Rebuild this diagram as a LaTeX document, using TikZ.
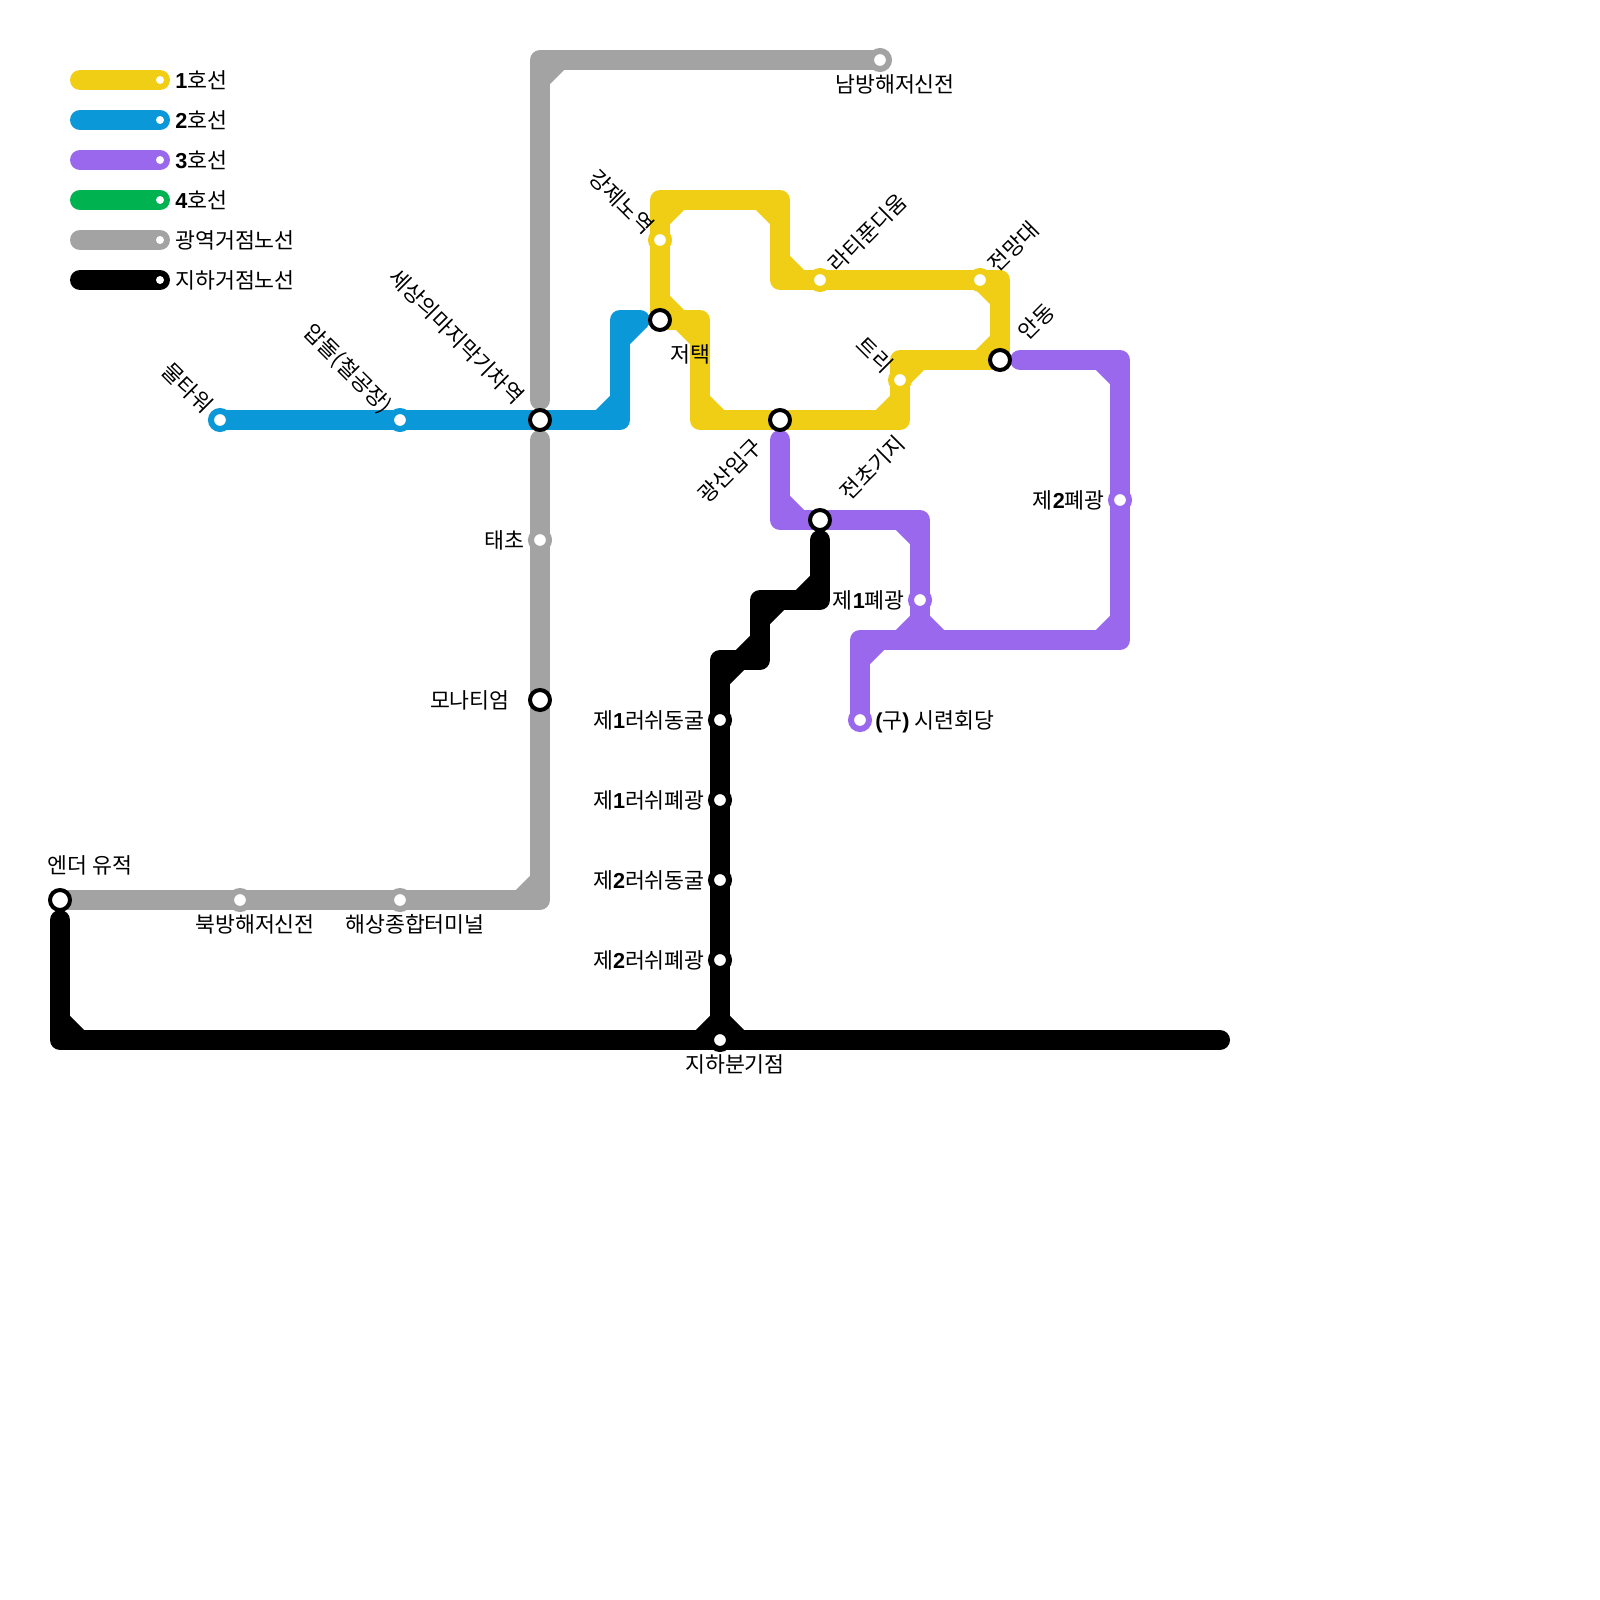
\documentclass[tikz,border=0pt]{standalone}
\usepackage{fontspec}
\setmainfont{Noto Sans CJK KR}
\newfontfamily\latinbold{Liberation Sans Bold}
\usetikzlibrary{calc}
\definecolor{lineone}{HTML}{F0CE15}
\definecolor{linetwo}{HTML}{0A98D9}
\definecolor{linethree}{HTML}{9A68ED}
\definecolor{linefour}{HTML}{00B250}
\definecolor{linewide}{HTML}{A3A3A3}
\definecolor{lineunder}{HTML}{000000}
\newcommand{\lb}[1]{{\latinbold #1}}
\tikzset{
  metro/.style={line width=0.5cm, line cap=round, line join=round},
  cut/.style={line width=0.5cm, line cap=butt},
  stn/.style={circle, draw=#1, fill=white, line width=0.15cm, minimum size=0.45cm, inner sep=0pt, outer sep=0pt},
  transfer/.style={circle, draw=black, fill=white, line width=0.1cm, minimum size=0.5cm, inner sep=0pt, outer sep=0pt},
  legdot/.style={circle, fill=white, minimum size=0.2cm, inner sep=0pt, outer sep=0pt},
  lbl/.style={font=\fontsize{15.4}{17}\selectfont, inner sep=0pt, text=black, text height=12pt, text depth=0.5pt},
}
\begin{document}
\begin{tikzpicture}[x=0.5cm, y=-0.5cm]
  \useasboundingbox (0,0) rectangle (80,80);
  \fill[white] (0,0) rectangle (80,80);

  % legend
  \foreach \yy/\col/\txt [count=\i] in {4/lineone/\lb{1}호선, 6/linetwo/\lb{2}호선, 8/linethree/\lb{3}호선, 10/linefour/\lb{4}호선, 12/linewide/광역거점노선, 14/lineunder/지하거점노선}{
    \coordinate (lega\i) at (4,\yy);
    \coordinate (legb\i) at (8,\yy);
    \draw[metro, \col] (lega\i) -- (legb\i);
    \node[legdot] (legdot\i) at (legb\i) {};
    \node[lbl, anchor=west] (legtxt\i) at (8.75,\yy) {\txt};
  }

  % bends and free ends
  \foreach \nm/\pos in {ya/{33,10}, yb/{39,10}, yc/{39,14}, yd/{50,14}, ye/{45,18}, yf/{45,21}, yg/{35,21}, yh/{35,16},
    ba/{31,21}, bb/{31,16}, bc/{32,16},
    ga/{27,3}, gb/{27,20}, gc/{27,22}, gd/{27,45},
    ka/{3,46}, kb/{3,52}, kc/{61,52}, kd/{36,33}, ke/{38,33}, kf/{38,30}, kg/{41,30}, kh/{41,27},
    pa/{51,18}, pb/{56,18}, pc/{56,32}, pd/{43,32}, pe/{39,22}, pf/{39,26}, pg/{46,26}, ph/{46,32}}
    {\coordinate (\nm) at (\pos);}

  % station places
  \path
    (33,16) coordinate (jeotaek)
    (50,18) coordinate (andong)
    (39,21) coordinate (gwangsan)
    (27,21) coordinate (sesang)
    (41,26) coordinate (jeoncho)
    (3,45)  coordinate (ender)
    (36,52) coordinate (jiha)
    (33,12) coordinate (gangje)
    (41,14) coordinate (lati)
    (49,14) coordinate (jeonmang)
    (45,19) coordinate (teuri)
    (11,21) coordinate (multa)
    (20,21) coordinate (apdol)
    (44,3)  coordinate (nambang)
    (27,27) coordinate (taecho)
    (27,35) coordinate (monati)
    (20,45) coordinate (haesang)
    (12,45) coordinate (bukbang)
    (56,25) coordinate (pyeeb)
    (46,30) coordinate (pyeea)
    (43,36) coordinate (siryeon)
    (36,36) coordinate (dongula)
    (36,40) coordinate (pyeec)
    (36,44) coordinate (dongulb)
    (36,48) coordinate (pyeed);

  % 1
  \draw[metro, lineone] (jeotaek) -- (ya) -- (yb) -- (yc) -- (yd) -- (andong) -- (ye) -- (yf) -- (yg) -- (yh) -- (jeotaek);
  \foreach \xa/\ya/\xb/\yb in {33/11/34/10, 38/10/39/11, 39/13/40/14, 49/14/50/15, 50/17/49/18, 46/18/45/19, 45/20/44/21, 36/21/35/20, 35/17/34/16, 33/15/34/16}
    {\draw[cut, lineone] (\xa,\ya) -- (\xb,\yb);}
  % 2
  \draw[metro, linetwo] (multa) -- (ba) -- (bb) -- (bc);
  \foreach \xa/\ya/\xb/\yb in {30/21/31/20, 31/17/32/16}
    {\draw[cut, linetwo] (\xa,\ya) -- (\xb,\yb);}
  % 3
  \draw[metro, linethree] (pa) -- (pb) -- (pc) -- (pd) -- (siryeon);
  \draw[metro, linethree] (pe) -- (pf) -- (pg) -- (ph);
  \foreach \xa/\ya/\xb/\yb in {55/18/56/19, 56/31/55/32, 44/32/43/33, 39/25/40/26, 45/26/46/27, 45/32/46/31, 47/32/46/31}
    {\draw[cut, linethree] (\xa,\ya) -- (\xb,\yb);}
  % wide area
  \draw[metro, linewide] (nambang) -- (ga) -- (gb);
  \draw[metro, linewide] (gc) -- (gd) -- (ender);
  \foreach \xa/\ya/\xb/\yb in {28/3/27/4, 27/44/26/45}
    {\draw[cut, linewide] (\xa,\ya) -- (\xb,\yb);}
  % underground
  \draw[metro, lineunder] (ka) -- (kb) -- (kc);
  \draw[metro, lineunder] (jiha) -- (kd) -- (ke) -- (kf) -- (kg) -- (kh);
  \foreach \xa/\ya/\xb/\yb in {3/51/4/52, 35/52/36/51, 37/52/36/51, 36/34/37/33, 37/33/38/32, 38/31/39/30, 40/30/41/29}
    {\draw[cut, lineunder] (\xa,\ya) -- (\xb,\yb);}

  % stations
  \foreach \nm/\col in {gangje/lineone, lati/lineone, jeonmang/lineone, teuri/lineone, multa/linetwo, apdol/linetwo,
    nambang/linewide, taecho/linewide, haesang/linewide, bukbang/linewide, pyeeb/linethree, pyeea/linethree, siryeon/linethree,
    dongula/lineunder, pyeec/lineunder, dongulb/lineunder, pyeed/lineunder, jiha/lineunder}
    {\node[stn=\col] (\nm st) at (\nm) {};}
  \foreach \nm in {jeotaek, andong, gwangsan, sesang, jeoncho, ender, monati}
    {\node[transfer] (\nm st) at (\nm) {};}

  % labels
  \node[lbl, anchor=east, rotate=-45] (gangjelb) at ($(gangje)+(-0.5,-0.5)$) {강제노역};
  \node[lbl, anchor=east, rotate=-45] (multalb) at ($(multa)+(-0.55,-0.55)$) {물타워};
  \node[lbl, anchor=east, rotate=-45] (apdollb) at ($(apdol)+(-0.55,-0.55)$) {압돌(철공장)};
  \node[lbl, anchor=east, rotate=-45] (sesanglb) at ($(sesang)+(-1,-1)$) {세상의마지막기차역};
  \node[lbl, anchor=east, rotate=-45] (teurilb) at ($(teuri)+(-0.55,-0.55)$) {트리};
  \node[lbl, anchor=east, rotate=45] (gwangsanlb) at ($(gwangsan)+(-1.1,1.1)$) {광산입구};
  \node[lbl, anchor=west, rotate=45] (jeoncholb) at ($(jeoncho)+(1.2,-1.2)$) {전초기지};
  \node[lbl, anchor=west, rotate=45] (latilb) at ($(lati)+(0.6,-0.6)$) {라티푼디움};
  \node[lbl, anchor=west, rotate=45] (jeonmanglb) at ($(jeonmang)+(0.6,-0.6)$) {전망대};
  \node[lbl, anchor=west, rotate=45] (andonglb) at ($(andong)+(1.1,-1.2)$) {안동};
  \node[lbl] (nambanglb) at ($(nambang)+(0.75,1.22)$) {남방해저신전};
  \node[lbl] (enderlb) at ($(ender)+(1.5,-1.73)$) {엔더 유적};
  \node[lbl] (bukbanglb) at ($(bukbang)+(0.75,1.22)$) {북방해저신전};
  \node[lbl] (haesanglb) at ($(haesang)+(0.75,1.22)$) {해상종합터미널};
  \node[lbl] (jihalb) at ($(jiha)+(0.75,1.22)$) {지하분기점};
  \node[lbl] (jeotaeklb) at ($(jeotaek)+(1.5,1.73)$) {저택};
  \node[lbl, anchor=east] (taecholb) at ($(taecho)+(-0.75,0)$) {태초};
  \node[lbl, anchor=east] (monatilb) at ($(monati)+(-1.5,0)$) {모나티엄};
  \node[lbl, anchor=east] (dongulalb) at ($(dongula)+(-0.75,0)$) {제\lb{1}러쉬동굴};
  \node[lbl, anchor=east] (pyeeclb) at ($(pyeec)+(-0.75,0)$) {제\lb{1}러쉬폐광};
  \node[lbl, anchor=east] (dongulblb) at ($(dongulb)+(-0.75,0)$) {제\lb{2}러쉬동굴};
  \node[lbl, anchor=east] (pyeedlb) at ($(pyeed)+(-0.75,0)$) {제\lb{2}러쉬폐광};
  \node[lbl, anchor=east] (pyeeblb) at ($(pyeeb)+(-0.75,0)$) {제\lb{2}폐광};
  \node[lbl, anchor=east] (pyeealb) at ($(pyeea)+(-0.75,0)$) {제\lb{1}폐광};
  \node[lbl, anchor=west] (siryeonlb) at ($(siryeon)+(0.75,0)$) {\lb{(}구\lb{)} 시련회당};
\end{tikzpicture}
\end{document}
